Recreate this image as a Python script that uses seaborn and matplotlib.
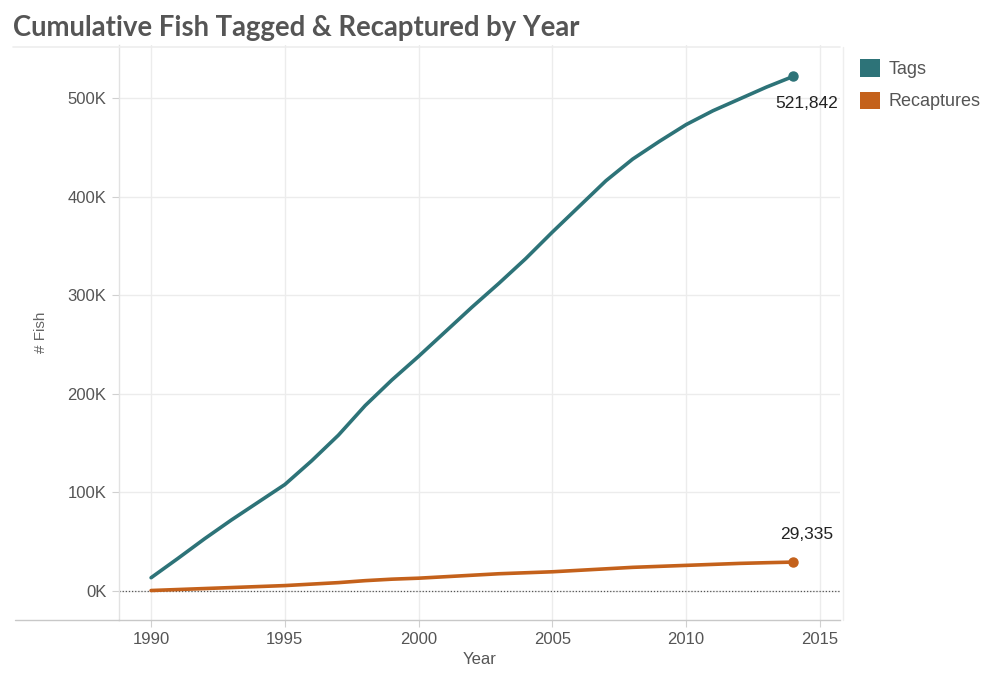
import matplotlib
matplotlib.use("Agg")
import matplotlib.pyplot as plt
from matplotlib.patches import Patch
from matplotlib.lines import Line2D
from matplotlib.ticker import FuncFormatter, MultipleLocator
import pandas as pd
import seaborn as sns

# Cumulative counts per year
years = list(range(1990, 2015))
tags = [13500, 33000, 53000, 72000, 90000, 108000, 132000, 158000, 188000, 214000,
        238000, 263000, 288000, 312000, 337000, 364000, 390000, 416000, 438000, 456000,
        473000, 487000, 499000, 511000, 521842]
recaptures = [500, 1500, 2500, 3500, 4500, 5500, 7000, 8500, 10500, 12000,
              13000, 14500, 16000, 17500, 18500, 19500, 21000, 22500, 24000, 25000,
              26000, 27000, 28000, 28700, 29335]
series_names = ["Tags", "Recaptures"]
series_colors = ["#2d7378", "#c4611b"]

df = pd.DataFrame({
    "Year": years * 2,
    "# Fish": tags + recaptures,
    "Series": [series_names[0]] * len(years) + [series_names[1]] * len(years),
})

sns.set_theme(style="white")
plt.rcParams["font.family"] = ["Liberation Sans", "DejaVu Sans"]

fig = plt.figure(figsize=(9.96, 6.75), dpi=100)
W, H = 996, 675
ax = fig.add_axes([119 / W, 1 - 620 / H, (840 - 119) / W, (620 - 45) / H])

palette = dict(zip(series_names, series_colors))
sns.lineplot(data=df, x="Year", y="# Fish", hue="Series", palette=palette,
             linewidth=2.6, legend=False, ax=ax, zorder=3)

# end-point markers and value labels
for name, vals, dy in [("Tags", tags, -19.5), ("Recaptures", recaptures, 19.5)]:
    ax.plot(years[-1], vals[-1], "o", color=palette[name], markersize=6.5, zorder=4)
    ax.annotate(f"{vals[-1]:,}", (years[-1], vals[-1]), xytext=(9.5, dy),
                textcoords="offset points", ha="center", va="center",
                fontsize=12.5, color="#222222")

ax.set_xlim(1988.8, 2015.75)
ax.set_ylim(-29400, 553700)
ax.xaxis.set_major_locator(MultipleLocator(5))
ax.yaxis.set_major_locator(MultipleLocator(100000))
ax.yaxis.set_major_formatter(FuncFormatter(lambda v, p: f"{int(round(v / 1000))}K"))

ax.grid(True, color="#ececec", linewidth=1.0)
ax.axhline(0, color="#555555", linestyle=(0, (1, 1.5)), linewidth=0.9, zorder=2)

for s in ["top", "right"]:
    ax.spines[s].set_visible(False)
ax.spines["left"].set_color("#e2e2e2")
ax.spines["bottom"].set_color("#c8c8c8")
ax.spines["left"].set_linewidth(1.0)
ax.spines["bottom"].set_linewidth(1.0)

ax.tick_params(axis="both", which="major", length=5, width=0.8, color="#d0d0d0",
               labelsize=12, labelcolor="#555555", bottom=True, left=True)
ax.tick_params(axis="x", pad=4)
ax.tick_params(axis="y", pad=4)

ax.set_xlabel("Year", fontsize=12, color="#555555", labelpad=3)
ax.set_ylabel("# Fish", fontsize=11, color="#666666", labelpad=14)

# header rule, extended axis rule and legend pane border
fig.add_artist(Line2D([13 / W, 840 / W], [1 - 47 / H, 1 - 47 / H], color="#ededed", linewidth=1.2))
fig.add_artist(Line2D([15 / W, 119 / W], [1 - 620 / H, 1 - 620 / H], color="#c8c8c8", linewidth=1.0))
fig.add_artist(Line2D([843 / W, 843 / W], [1 - 47 / H, 1 - 620 / H], color="#eeeeee", linewidth=1.0))

fig.text(13 / W, 1 - 28 / H, "Cumulative Fish Tagged & Recaptured by Year",
         fontsize=19.8, fontweight="bold", color="#555555", family=["Lato", "DejaVu Sans"],
         va="center", ha="left")

handles = [Patch(facecolor=c, edgecolor="none", label=n) for n, c in zip(series_names, series_colors)]
fig.legend(handles=handles, loc="upper left", bbox_to_anchor=(844 / W, 1 - 43 / H),
           frameon=False, fontsize=13, handlelength=1.1, handleheight=1.1,
           handletextpad=0.45, labelspacing=0.75, labelcolor="#555555")

fig.savefig("out.png", dpi=100, facecolor="white")
